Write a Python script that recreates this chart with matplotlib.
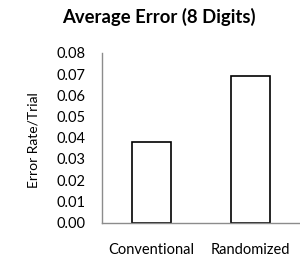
import matplotlib
matplotlib.use("Agg")
import matplotlib.pyplot as plt

categories = ["Conventional", "Randomized"]
values = [0.038, 0.069]
yticks = [0.00, 0.01, 0.02, 0.03, 0.04, 0.05, 0.06, 0.07, 0.08]

plt.rcParams['font.family'] = ['Lato', 'DejaVu Sans']

fig = plt.figure(figsize=(3.0, 2.6), dpi=100)
ax = fig.add_axes([102/300, 1-222.5/260, 198/300, (222.5-53)/260])

ax.bar(range(len(categories)), values, width=0.4, color='white',
       edgecolor='black', linewidth=1.2, zorder=2)
ax.set_xlim(-0.5, 1.5)
ax.set_ylim(0, 0.08)
ax.set_yticks(yticks)
ax.set_yticklabels([f"{v:.2f}" for v in yticks], fontsize=10.5)
ax.set_xticks(range(len(categories)))
ax.set_xticklabels(categories, fontsize=10.5)
ax.tick_params(axis='both', length=0)
ax.tick_params(axis='y', pad=12)
ax.tick_params(axis='x', pad=15)
for s in ['top', 'right']:
    ax.spines[s].set_visible(False)
for s in ['left', 'bottom']:
    ax.spines[s].set_color('#8c8c8c')
    ax.spines[s].set_linewidth(1.0)
    ax.spines[s].set_zorder(3)

fig.text(33/300, 1-140/260, "Error Rate/Trial", rotation=90, ha='center', va='center', fontsize=10)
fig.text(159/300, 1-17/260, "Average Error (8 Digits)", ha='center', va='center',
         fontsize=13.3, fontweight='bold')

fig.savefig("out.png", dpi=100)
